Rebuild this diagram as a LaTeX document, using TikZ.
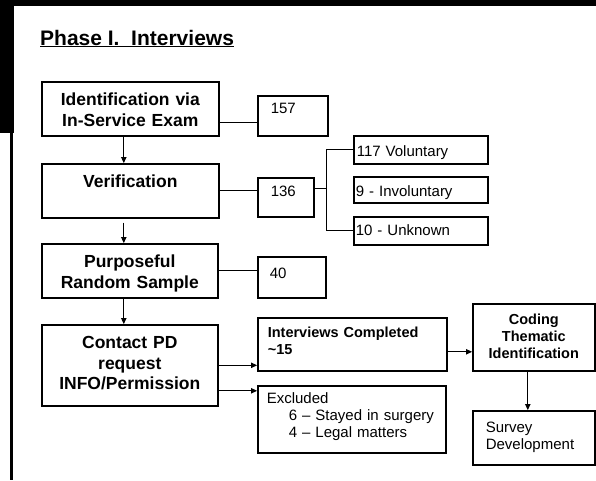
\documentclass[tikz,border=0pt]{standalone}
\usepackage{fontspec}
\setmainfont{Liberation Sans}
\usetikzlibrary{arrows.meta,calc}

\tikzset{
  frame/.style={draw=black, line width=1.6pt, anchor=north west, inner ysep=0pt},
  mainfont/.style={font=\fontsize{17.5}{20.5}\selectfont\bfseries},
  smallbold/.style={font=\fontsize{14.5}{16.5}\selectfont\bfseries},
  plain/.style={font=\fontsize{15}{16.5}\selectfont},
  conn/.style={line width=1pt},
  arr/.style={conn, -{Triangle[length=6pt,width=5.5pt]}},
}

\begin{document}
\begin{tikzpicture}[x=1pt,y=-1pt]
\useasboundingbox (0,0) rectangle (596,480);
\fill[white] (0,0) rectangle (596,480);

% black page edges
\fill[black] (0,0) rectangle (596,6);
\fill[black] (0,0) rectangle (14,133);
\fill[black] (10,133) rectangle (13,480);

% heading
\node[anchor=base west, inner sep=0pt, font=\fontsize{21}{24}\selectfont\bfseries]
  (title) at (40,45) {\underline{Phase I.\ \ Interviews}};

% main column
\node[frame, mainfont, align=center, inner xsep=4pt, text width=169pt,
      text height=24pt, text depth=30pt] (ident) at (41,81)
  {Identification via\\In-Service Exam};
\node[frame, mainfont, align=center, inner xsep=4pt, text width=169pt,
      text height=24pt, text depth=30pt] (verif) at (41,163)
  {Verification};
\node[frame, mainfont, align=center, inner xsep=4pt, text width=168pt,
      text height=24pt, text depth=30pt] (sample) at (41,243)
  {Purposeful\\Random Sample};
\node[frame, mainfont, align=center, inner xsep=4pt, text width=168pt,
      text height=24pt, text depth=57pt] (contact) at (41,324)
  {Contact PD\\request\\INFO/Permission};

% counts
\node[frame, plain, align=left, inner xsep=13pt, text width=44pt,
      text height=18pt, text depth=22pt] (n157) at (257,95) {157};
\node[frame, plain, align=left, inner xsep=13pt, text width=30pt,
      text height=19pt, text depth=20pt] (n136) at (257,177) {136};
\node[frame, plain, align=left, inner xsep=12pt, text width=44pt,
      text height=22pt, text depth=19pt] (n40) at (257,256) {40};

% breakdown of the 136
\node[frame, plain, align=left, inner xsep=3pt, text width=128pt,
      text height=21pt, text depth=7pt] (vol) at (353,135) {117 Voluntary};
\node[frame, plain, align=left, inner xsep=2pt, text width=130pt,
      text height=20pt, text depth=6pt] (invol) at (353,176) {9 - Involuntary};
\node[frame, plain, align=left, inner xsep=2pt, text width=130pt,
      text height=19pt, text depth=9pt] (unk) at (353,216) {10 - Unknown};

% outcomes
\node[frame, smallbold, align=left, inner xsep=10pt, text width=169pt,
      text height=20pt, text depth=33pt] (done) at (257,317)
  {Interviews Completed\\\textasciitilde15};
\node[frame, font=\fontsize{15}{17}\selectfont, align=left, inner xsep=9pt, text width=170pt,
      text height=18pt, text depth=49pt] (excl) at (257,385)
  {Excluded\\\hspace*{22pt}6 -- Stayed in surgery\\\hspace*{22pt}4 -- Legal matters};
\node[frame, font=\fontsize{14.5}{17}\selectfont\bfseries, align=center, inner xsep=2pt,
      text width=118pt, text height=20.5pt, text depth=46.5pt] (coding) at (472,303)
  {Coding\\Thematic\\Identification};
\node[frame, plain, align=left, inner xsep=13pt, text width=96pt,
      text height=22pt, text depth=32pt] (survey) at (472,410)
  {Survey\\Development};

% flow down the main column
\draw[arr] ([xshift=-6.5pt]ident.south) -- ([xshift=-6.5pt]verif.north);
\draw[arr, shorten <=4pt] ([xshift=-6.5pt]verif.south) -- ([xshift=-6pt]sample.north);
\draw[arr] ([xshift=-6pt]sample.south) -- ([xshift=-6pt]contact.north);

% links to the counts
\draw[conn] ([yshift=-7pt]n157.west) -- ([yshift=-7pt]n157.west -| ident.east);
\draw[conn] (verif.east) -- (verif.east -| n136.west);
\draw[conn] (sample.east) -- (sample.east -| n40.west);

% bracket from 136 to its breakdown
\coordinate (br) at ($(n136.east)+(12,-8.5)$);
\draw[conn] ([yshift=8.5pt]n136.east) -- (br);
\draw[conn] (vol.west) -| (br) |- (unk.west);

% outcomes of contacting the PDs
\draw[arr] (contact.east) -- (contact.east -| done.west);
\draw[arr] ([yshift=-25.5pt]contact.east) -- ([yshift=-25.5pt]contact.east -| excl.west);
\draw[arr] ([yshift=-7.5pt]done.east) -- ([yshift=-7.5pt]done.east -| coding.west);
\draw[arr] ([xshift=-6pt]coding.south) -- ([xshift=-6pt]coding.south |- survey.north);
\end{tikzpicture}
\end{document}
